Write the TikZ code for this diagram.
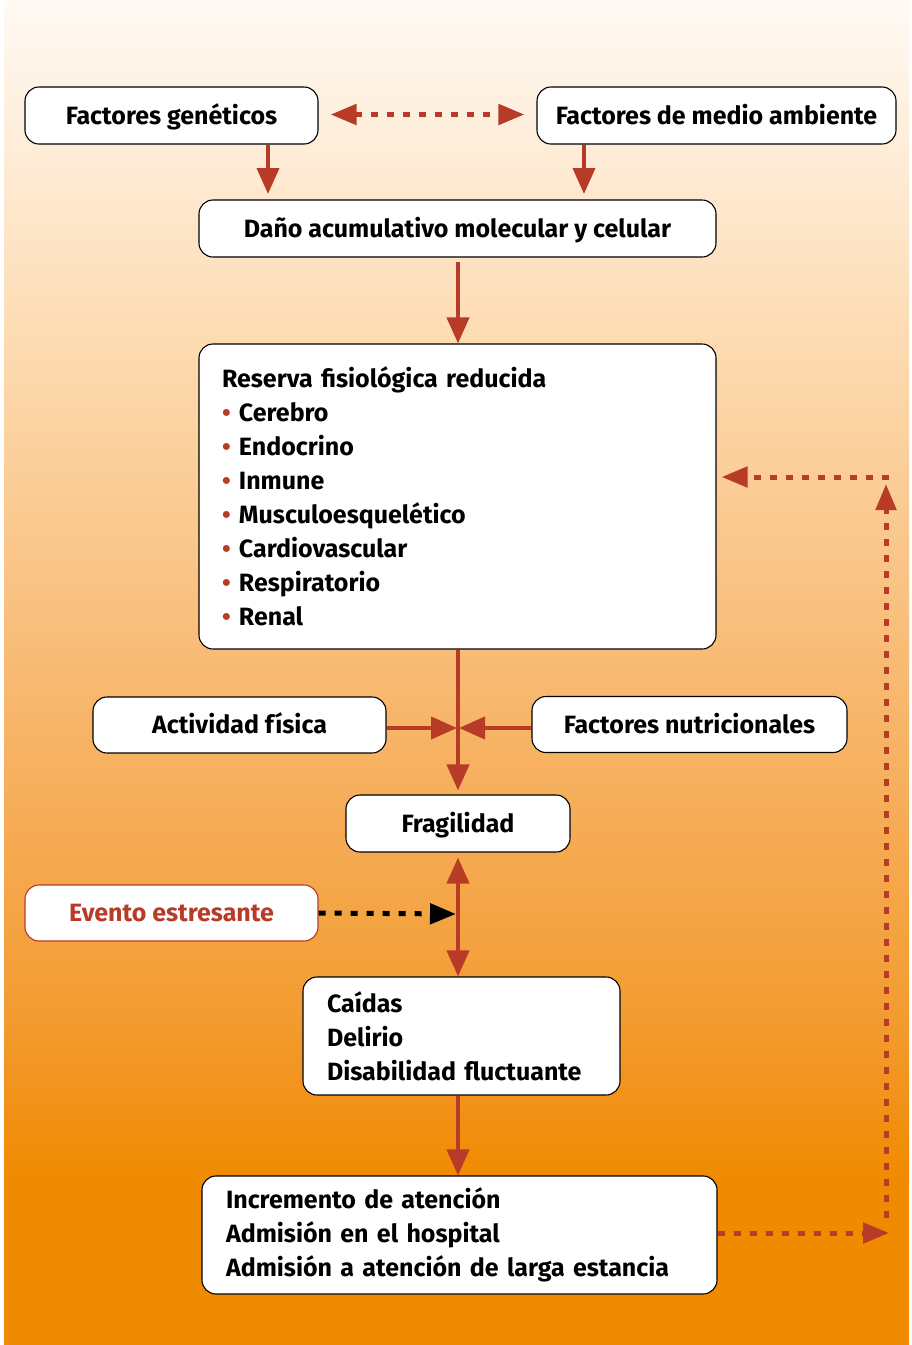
\documentclass[tikz,border=0pt]{standalone}
\usepackage{fontspec}
\setmainfont{Fira Sans}
\usetikzlibrary{arrows.meta,calc}
\definecolor{arrred}{HTML}{B83B27}
\definecolor{bgA}{HTML}{FFFAF4}
\definecolor{bgB}{HTML}{FDDCB4}
\definecolor{bgC}{HTML}{F7B467}
\definecolor{bgD}{HTML}{F39A2E}
\definecolor{bgE}{HTML}{F08A00}
\begin{document}
\begin{tikzpicture}[x=1pt,y=-1pt,
  box/.style={draw=black,line width=1.1pt,fill=white,rounded corners=14pt,inner sep=0pt,
    font=\fontsize{25}{34}\selectfont\bfseries},
  onebox/.style={box,text height=18pt,text depth=1pt},
  listbox/.style={box,align=left},
  redarrow/.style={draw=arrred,line width=4pt,-{Triangle[length=26pt,width=22pt]}},
  dotarrow/.style={draw=arrred,line width=5pt,dash pattern=on 7pt off 9pt,-{Triangle[length=26pt,width=20pt]}},
  blkarrow/.style={draw=black,line width=5pt,dash pattern=on 7pt off 9pt,-{Triangle[length=26pt,width=20pt]}}
]
\useasboundingbox (0,0) rectangle (912,1345);
\fill[white] (0,0) rectangle (912,1345);
\shade[top color=bgA,bottom color=bgB] (4,0) rectangle (909,331);
\shade[top color=bgB,bottom color=bgC] (4,330) rectangle (909,731);
\shade[top color=bgC,bottom color=bgD] (4,730) rectangle (909,1031);
\shade[top color=bgD,bottom color=bgE] (4,1030) rectangle (909,1181);
\fill[bgE] (4,1180) rectangle (909,1345);

\node[onebox,minimum width=293pt,minimum height=57pt] (gen) at (171.5,115.5) {Factores genéticos};
\node[onebox,minimum width=359pt,minimum height=57pt] (amb) at (716.5,115.5) {Factores de medio ambiente};
\node[onebox,minimum width=517pt,minimum height=57pt] (dano) at (457.5,228.5) {Daño acumulativo molecular y celular};
\node[listbox,minimum width=517pt,minimum height=305pt,text width=471pt] (res) at (457.5,496.5)
  {Reserva fisiológica reducida\\
   \textcolor{arrred}{•} Cerebro\\
   \textcolor{arrred}{•} Endocrino\\
   \textcolor{arrred}{•} Inmune\\
   \textcolor{arrred}{•} Musculoesquelético\\
   \textcolor{arrred}{•} Cardiovascular\\
   \textcolor{arrred}{•} Respiratorio\\
   \textcolor{arrred}{•} Renal};
\node[onebox,minimum width=293pt,minimum height=56pt] (act) at (239.5,725) {Actividad física};
\node[onebox,minimum width=315pt,minimum height=56pt] (nut) at (689.5,724.5) {Factores nutricionales};
\node[onebox,minimum width=224pt,minimum height=57pt] (fra) at (458,823.5) {Fragilidad};
\node[onebox,draw=arrred,text=arrred,minimum width=293pt,minimum height=56pt] (eve) at (171.5,913) {Evento estresante};
\node[listbox,minimum width=317pt,minimum height=118pt,text width=269pt] (cai) at (461.5,1036)
  {Caídas\\ Delirio\\ Disabilidad fluctuante};
\node[listbox,minimum width=515pt,minimum height=118pt,text width=467pt] (inc) at (459.5,1235)
  {Incremento de atención\\ Admisión en el hospital\\ Admisión a atención de larga estancia};

\coordinate (crossL) at (457,728);
\coordinate (crossR) at (459,728);

\draw[redarrow] (gen.south -| 268,0) -- (268,194);
\draw[redarrow] (amb.south -| 584,0) -- (584,194);
\draw[redarrow] (458,262) -- (res.north -| 458,0);
\draw[redarrow] (res.south -| fra.north) -- ($(fra.north)+(0,-4)$);
\draw[redarrow] (act.east |- crossL) -- (crossL);
\draw[redarrow] (nut.west |- crossR) -- (crossR);
\draw[draw=arrred,line width=4pt,{Triangle[length=26pt,width=22pt]}-{Triangle[length=26pt,width=22pt]}] ($(fra.south)+(0,5)$) -- (cai.north -| fra.south);
\draw[blkarrow] (eve.east) -- (456,914);
\draw[redarrow] (cai.south -| fra.south) -- (inc.north -| fra.south);

\draw[draw=arrred,line width=5pt,dash pattern=on 7pt off 9pt,{Triangle[length=26pt,width=20pt]}-{Triangle[length=26pt,width=20pt]}] ($(gen.east)+(12,-1)$) -- ($(amb.west)+(-12,-1)$);

\coordinate (fbA) at (889,1233);
\coordinate (fbB) at (886,1218);
\coordinate (fbC) at (886,484);
\coordinate (fbD) at (889,477);
\draw[dotarrow] (inc.east |- fbA) -- (fbA);
\draw[dotarrow] (fbB) -- (fbC);
\draw[dotarrow] (fbD) -- ($(res.east |- fbD)+(5,0)$);
\end{tikzpicture}
\end{document}
